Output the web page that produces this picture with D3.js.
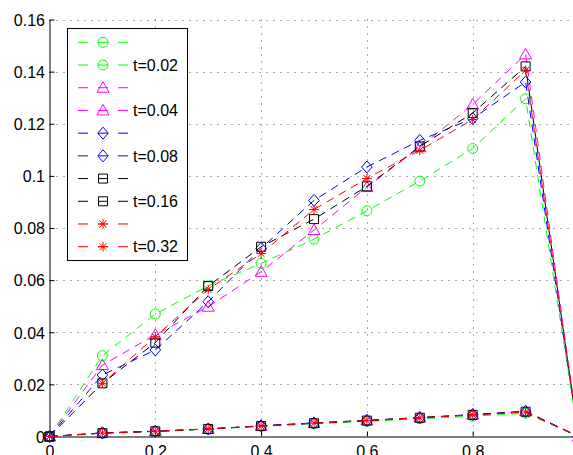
<!DOCTYPE html>
<html>
<head>
<meta charset="utf-8">
<script src="https://cdn.jsdelivr.net/npm/d3@7/dist/d3.min.js"></script>
<style>
  html, body { margin: 0; padding: 0; background: #fff; }
  svg { display: block; }
  text { font-family: "Liberation Sans", Arial, Helvetica, sans-serif; }
</style>
</head>
<body>
<div id="chart"></div>
<script>
// ---- data ----
const xValues = [0, 0.1, 0.2, 0.3, 0.4, 0.5, 0.6, 0.7, 0.8, 0.9, 1.0];

const upperT002 = [0, 0.0310, 0.0470, 0.0578, 0.0664, 0.0757, 0.0866, 0.0980, 0.1105, 0.1296, 0];
const lowerT002 = [0, 0.0012, 0.0019, 0.0028, 0.0039, 0.0049, 0.0058, 0.0068, 0.0078, 0.0089, 0];

const upperT004 = [0, 0.0274, 0.0390, 0.0498, 0.0632, 0.0792, 0.0957, 0.1110, 0.1274, 0.1466, 0];
const lowerT004 = [0, 0.0014, 0.0021, 0.0029, 0.0041, 0.0052, 0.0062, 0.0073, 0.0084, 0.0098, 0];

const upperT008 = [0, 0.0236, 0.0332, 0.0517, 0.0722, 0.0906, 0.1034, 0.1136, 0.1220, 0.1360, 0];
const lowerT008 = [0, 0.0014, 0.0020, 0.0029, 0.0041, 0.0052, 0.0062, 0.0072, 0.0084, 0.0096, 0];

const upperT016 = [0, 0.0204, 0.0360, 0.0577, 0.0728, 0.0834, 0.0960, 0.1113, 0.1241, 0.1420, 0];
const lowerT016 = [0, 0.0013, 0.0020, 0.0029, 0.0040, 0.0051, 0.0061, 0.0072, 0.0083, 0.0095, 0];

const upperT032 = [0, 0.0204, 0.0383, 0.0564, 0.0702, 0.0871, 0.0990, 0.1098, 0.1216, 0.1405, 0];
const lowerT032 = [0, 0.0013, 0.0020, 0.0029, 0.0040, 0.0051, 0.0061, 0.0072, 0.0083, 0.0094, 0];

const legendLabels = ["t=0.02", "t=0.04", "t=0.08", "t=0.16", "t=0.32"];
const seriesColors = ["#00ff00", "#ff00ff", "#0000ff", "#000000", "#ff0000"];
const seriesMarkers = ["circle", "triangle", "diamond", "square", "star"];

const xTickValues = [0, 0.2, 0.4, 0.6, 0.8, 1.0];
const xTickLabels = ["0", "0.2", "0.4", "0.6", "0.8", "1"];
const yTickValues = [0, 0.02, 0.04, 0.06, 0.08, 0.10, 0.12, 0.14, 0.16];
const yTickLabels = ["0", "0.02", "0.04", "0.06", "0.08", "0.1", "0.12", "0.14", "0.16"];

const series = [
  { label: legendLabels[0], color: seriesColors[0], marker: seriesMarkers[0], upper: upperT002, lower: lowerT002 },
  { label: legendLabels[1], color: seriesColors[1], marker: seriesMarkers[1], upper: upperT004, lower: lowerT004 },
  { label: legendLabels[2], color: seriesColors[2], marker: seriesMarkers[2], upper: upperT008, lower: lowerT008 },
  { label: legendLabels[3], color: seriesColors[3], marker: seriesMarkers[3], upper: upperT016, lower: lowerT016 },
  { label: legendLabels[4], color: seriesColors[4], marker: seriesMarkers[4], upper: upperT032, lower: lowerT032 }
];

// ---- layout ----
const W = 573, H = 455;
const x = d3.scaleLinear().domain([0, 1]).range([49.5, 578.5]);
const y = d3.scaleLinear().domain([0, 0.16]).range([436.5, 19.5]);

const svg = d3.select("#chart").append("svg")
  .attr("width", W).attr("height", H)
  .attr("viewBox", `0 0 ${W} ${H}`);

// grid
const grid = svg.append("g").attr("stroke", "#555").attr("stroke-width", 1)
  .attr("stroke-dasharray", "1,6").attr("fill", "none");
yTickValues.filter(v => v > 0).forEach(v => {
  grid.append("line").attr("x1", x(0)).attr("x2", x(1))
    .attr("y1", Math.round(y(v)) + 0.5).attr("y2", Math.round(y(v)) + 0.5);
});
xTickValues.filter(v => v > 0).forEach(v => {
  grid.append("line").attr("y1", y(0.16)).attr("y2", y(0))
    .attr("x1", Math.round(x(v)) + 0.5).attr("x2", Math.round(x(v)) + 0.5);
});

// axes
const yAxis = d3.axisLeft(y).tickValues(yTickValues)
  .tickFormat((d, i) => yTickLabels[i]).tickSizeInner(-5).tickSizeOuter(0).tickPadding(4.5);
const xAxis = d3.axisBottom(x).tickValues(xTickValues)
  .tickFormat((d, i) => xTickLabels[i]).tickSizeInner(-5).tickSizeOuter(0).tickPadding(9);

const gy = svg.append("g").attr("transform", "translate(0,0)").call(yAxis);
const gx = svg.append("g").attr("transform", "translate(0,0)").call(xAxis);
gy.attr("transform", `translate(${0},0)`);
// position axes at plot edges
gy.attr("transform", null); 
gy.call(yAxis.scale(y));
gy.attr("transform", `translate(${x(0)},0)`);
gx.attr("transform", `translate(0,${y(0)})`);
// fix scales since axis placed via transform: use offset ranges
[gy, gx].forEach(g => {
  g.selectAll("text").attr("font-size", 16).attr("fill", "#000")
    .attr("font-family", "'Liberation Sans', Arial, Helvetica, sans-serif");
  g.selectAll("line,path").attr("stroke", "#000").attr("stroke-width", 1);
});
gy.selectAll("text").attr("dy", "0.36em");

// marker path
function markerPath(type, cx, cy) {
  switch (type) {
    case "circle": {
      const r = 5;
      return `M${cx - r},${cy}a${r},${r} 0 1,0 ${2 * r},0a${r},${r} 0 1,0 ${-2 * r},0Z`;
    }
    case "triangle":
      return `M${cx},${cy - 6}L${cx + 6},${cy + 4.5}L${cx - 6},${cy + 4.5}Z`;
    case "diamond":
      return `M${cx},${cy - 6}L${cx + 5.3},${cy}L${cx},${cy + 6}L${cx - 5.3},${cy}Z`;
    case "square":
      return `M${cx - 4.5},${cy - 4.5}h9v9h-9Z`;
    case "star": {
      const a = 4.8, b = 3.4;
      return `M${cx - a},${cy}h${2 * a}M${cx},${cy - a}v${2 * a}` +
             `M${cx - b},${cy - b}l${2 * b},${2 * b}M${cx - b},${cy + b}l${2 * b},${-2 * b}`;
    }
  }
}

// lines + markers
const line = d3.line().x((d, i) => x(xValues[i])).y(d => y(d));
const plot = svg.append("g");
series.forEach(s => {
  [s.upper, s.lower].forEach(vals => {
    plot.append("path").datum(vals).attr("d", line)
      .attr("fill", "none").attr("stroke", s.color).attr("stroke-width", 1)
      .attr("stroke-dasharray", "8,6");
    plot.selectAll(null).data(vals).enter().append("path")
      .attr("d", (d, i) => markerPath(s.marker, x(xValues[i]), y(d)))
      .attr("fill", "none").attr("stroke", s.color).attr("stroke-width", 1);
  });
});

// legend
const legendEntries = [];
series.forEach(s => {
  legendEntries.push({ label: "", color: s.color, marker: s.marker });
  legendEntries.push({ label: s.label, color: s.color, marker: s.marker });
});
const lg = svg.append("g");
lg.append("rect").attr("x", 67.5).attr("y", 28.5).attr("width", 120).attr("height", 232)
  .attr("fill", "#fff").attr("stroke", "#000").attr("stroke-width", 1);
const rowY = d3.scaleLinear().domain([0, legendEntries.length - 1]).range([42.3, 246.7]);
legendEntries.forEach((e, i) => {
  const cy = rowY(i);
  lg.append("line").attr("x1", 78).attr("x2", 128).attr("y1", cy).attr("y2", cy)
    .attr("stroke", e.color).attr("stroke-width", 1).attr("stroke-dasharray", "10,10");
  lg.append("path").attr("d", markerPath(e.marker, 103, cy))
    .attr("fill", "none").attr("stroke", e.color).attr("stroke-width", 1);
  if (e.label) {
    lg.append("text").attr("x", 133).attr("y", cy).attr("dy", "0.36em")
      .attr("font-size", 16).attr("fill", "#000").text(e.label);
  }
});
</script>
</body>
</html>
